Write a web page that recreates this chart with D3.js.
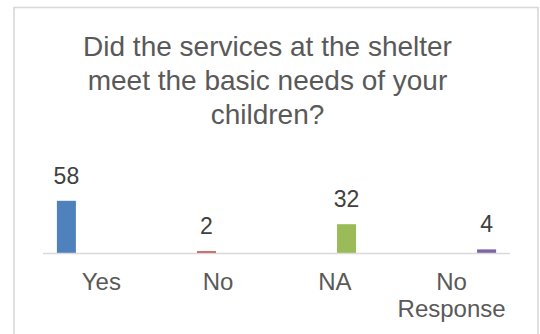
<!DOCTYPE html>
<html>
<head>
<meta charset="utf-8">
<script src="https://cdn.jsdelivr.net/npm/d3@7"></script>
<style>
  html, body { margin: 0; padding: 0; background: #fff; }
  svg { display: block; }
</style>
</head>
<body>
<script>
// Survey responses
const categories = ["Yes", "No", "NA", "No Response"];
const values = [58, 2, 32, 4];
const colors = ["#4f81bd", "#c0504d", "#9bbb59", "#8064a2"];
const titleLines = ["Did the services at the shelter", "meet the basic needs of your", "children?"];
const yMax = 70;

const W = 540, H = 334;
const svg = d3.select("body").append("svg").attr("width", W).attr("height", H);
const font = "'Liberation Sans', Arial, sans-serif";

// chart frame
svg.append("rect")
  .attr("x", 14).attr("y", 7.5)
  .attr("width", 524).attr("height", 340)
  .attr("fill", "#fff").attr("stroke", "#d9d9d9").attr("stroke-width", 1.6);

// title
svg.append("g").selectAll("text").data(titleLines).join("text")
  .attr("x", 267.5).attr("y", (d, i) => 56 + i * 34)
  .attr("text-anchor", "middle")
  .attr("font-family", font).attr("font-size", 28).attr("fill", "#595959")
  .text(d => d);

const plot = { left: 43, right: 510, top: 190, bottom: 253 };

const x = d3.scaleBand().domain(categories).range([plot.left, plot.right]);
// each category holds one slot per series; a bar only fills its own slot
const slot = d3.scaleBand().domain(categories)
  .range([x.bandwidth() * 0.119, x.bandwidth() * 0.881])
  .paddingInner(0.185);
const y = d3.scaleLinear().domain([0, yMax]).range([plot.bottom, plot.top]);

const data = categories.map((c, i) => ({ cat: c, value: values[i], color: colors[i] }));

// bars
svg.append("g").selectAll("rect").data(data).join("rect")
  .attr("x", d => x(d.cat) + slot(d.cat))
  .attr("y", d => y(d.value))
  .attr("width", slot.bandwidth())
  .attr("height", d => y(0) - y(d.value))
  .attr("fill", d => d.color);

// value labels
svg.append("g").selectAll("text").data(data).join("text")
  .attr("x", d => x(d.cat) + slot(d.cat) + slot.bandwidth() / 2)
  .attr("y", d => y(d.value) - 17)
  .attr("text-anchor", "middle")
  .attr("font-family", font).attr("font-size", 23).attr("fill", "#404040")
  .text(d => d.value);

// category axis
const axis = svg.append("g")
  .attr("transform", `translate(0,${plot.bottom + 0.5})`)
  .call(d3.axisBottom(x).tickSize(0).tickPadding(0));
axis.select(".domain").attr("stroke", "#d9d9d9").attr("stroke-width", 1.5)
  .attr("d", `M${plot.left},0H${plot.right}`);
axis.selectAll(".tick text").each(function (d) {
  const t = d3.select(this);
  const words = d.split(" ");
  t.text(null)
    .attr("y", 0).attr("dy", null)
    .attr("font-family", font).attr("font-size", 24).attr("fill", "#595959");
  words.forEach((w, i) => {
    t.append("tspan").attr("x", 0).attr("y", 36 + i * 27).text(w);
  });
});
</script>
</body>
</html>
